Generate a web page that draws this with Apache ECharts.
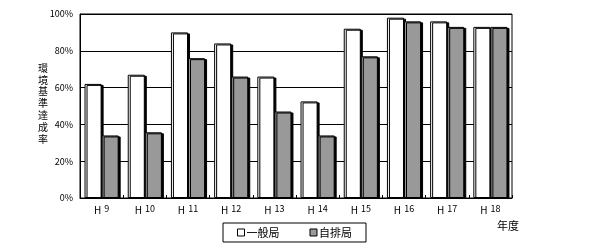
<!DOCTYPE html>
<html><head><meta charset="utf-8">
<script src="https://cdn.jsdelivr.net/npm/echarts@6/dist/echarts.min.js"></script>
<style>html,body{margin:0;padding:0;background:#fff}#c{width:589px;height:248px}</style>
</head><body><div id="c"></div>
<script>
var categories = ['9','10','11','12','13','14','15','16','17','18'];
var ippan = [62, 67, 90, 84, 66, 52.5, 92, 98, 96, 93];
var jihai = [34, 35.7, 76, 66, 47, 34, 77, 96, 93, 93];
var yTicks = [0, 20, 40, 60, 80, 100];
var seriesNames = ['一般局', '自排局'];
var yName = '環境基準達成率';
var xName = '年度';

var font = "'Noto Sans CJK JP', sans-serif";
var chart = echarts.init(document.getElementById('c'), null, {renderer: 'canvas'});
var barStyle = function (c) {
  return {color: c, borderColor: '#000', borderWidth: 1, shadowColor: '#000', shadowOffsetX: 2, shadowOffsetY: 1, shadowBlur: 0};
};
var yNameGraphics = yName.split('').map(function (ch, i) {
  return {type: 'text', left: 38, top: 63 + i * 11.8, style: {text: ch, font: '10px ' + font, fill: '#000'}};
});
chart.setOption({
  animation: false,
  backgroundColor: '#fff',
  grid: {left: 80, right: 77, top: 14, bottom: 50, show: true, borderColor: '#000', borderWidth: 1},
  legend: {
    data: seriesNames, left: 223, top: 223, padding: [4, 14, 4, 14], itemGap: 30,
    borderColor: '#000', borderWidth: 1, itemWidth: 7, itemHeight: 7, icon: 'rect',
    itemStyle: {shadowColor: 'transparent', shadowOffsetX: 0, shadowOffsetY: 0, borderWidth: 1, borderColor: '#000'},
    textStyle: {fontFamily: font, fontSize: 11, color: '#000', padding: [0, 0, 0, -3]}
  },
  xAxis: {
    type: 'category', data: categories,
    axisLine: {lineStyle: {color: '#000', width: 1}},
    axisTick: {show: true, inside: true, length: 3, lineStyle: {color: '#000'}},
    axisLabel: {
      margin: 6, interval: 0,
      formatter: function (v) { return '{h|H}{n|' + v + '}'; },
      rich: {
        h: {fontFamily: font, fontSize: 10, color: '#000', padding: [1, 3, 0, 0]},
        n: {fontFamily: font, fontSize: 9, color: '#000', padding: [0, 0, 1, 0]}
      }
    }
  },
  yAxis: {
    type: 'value', min: 0, max: 100, interval: 20,
    axisLine: {show: true, lineStyle: {color: '#000'}},
    axisTick: {show: false},
    splitLine: {lineStyle: {color: '#000', width: 1}},
    axisLabel: {margin: 7, fontFamily: font, fontSize: 9, color: '#000', formatter: function (v) { return yTicks.indexOf(v) >= 0 ? v + '%' : ''; }}
  },
  series: [
    {name: seriesNames[0], type: 'bar', data: ippan, barGap: '0%', barCategoryGap: '21%', itemStyle: barStyle('#fff')},
    {name: seriesNames[1], type: 'bar', data: jihai, barGap: '0%', barCategoryGap: '21%', itemStyle: barStyle('#999999')}
  ],
  graphic: yNameGraphics.concat([
    {type: 'text', left: 497, top: 220, style: {text: xName, font: '11px ' + font, fill: '#000'}}
  ])
});
</script></body></html>
